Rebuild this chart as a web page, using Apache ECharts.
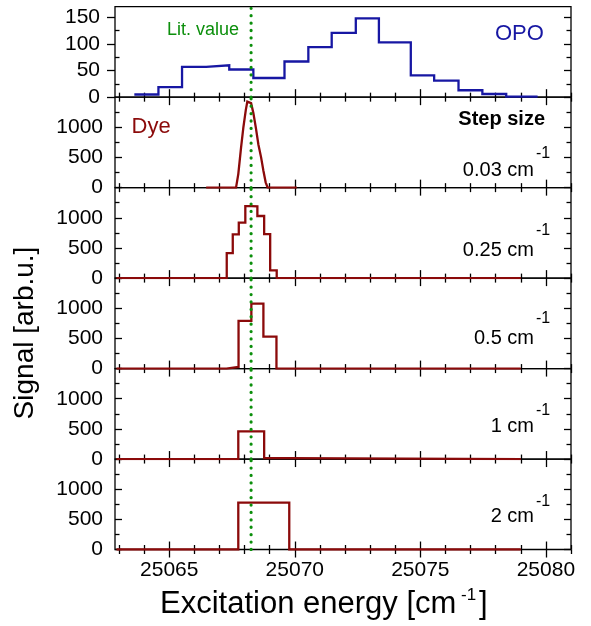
<!DOCTYPE html>
<html>
<head>
<meta charset="utf-8">
<script src="https://cdn.jsdelivr.net/npm/echarts@6/dist/echarts.min.js"></script>
<style>
html,body{margin:0;padding:0;background:#fff;}
#chart{width:591px;height:626px;}
</style>
</head>
<body>
<div id="chart"></div>
<script>
// ---------------- data ----------------
const X_MIN = 25062.84;
const X_MAX = 25081;
const X_MAJOR_TICKS = [25065, 25070, 25075, 25080];
const LIT_VALUE = 25068.26;

const OPO_Y_TICKS = [0, 50, 100, 150];
const OPO_Y_MINOR = [25, 75, 125];
const OPO_Y_MAX = 170;
const DYE_Y_TICKS = [0, 500, 1000];
const DYE_Y_MINOR = [250, 750, 1250];
const DYE_Y_MAX = 1500;

// OPO scan: bin edges and bin values
const OPO_EDGES = [25063.61, 25064.57, 25065.51, 25066.47, 25067.39, 25068.35, 25069.59, 25070.54,
                   25071.47, 25072.43, 25073.35, 25074.62, 25075.55, 25076.52, 25077.47, 25078.42, 25079.67];
const OPO_VALUES = [5, 19, 57, 60, 52, 36, 67, 94, 121, 148, 103, 41, 31, 13, 6, 1];

// Dye scan, 0.03 cm-1 step (fine scan read as points)
const DYE003_X = [25066.47, 25067.66, 25067.75, 25067.86, 25067.95, 25068.05, 25068.11, 25068.18, 25068.26,
                  25068.35, 25068.45, 25068.55, 25068.66, 25068.75, 25068.84, 25068.92, 25070.08];
const DYE003_Y = [0, 0, 225, 662, 990, 1290, 1426, 1454, 1400, 1236, 990, 716, 498, 279, 88, 0, 0];

// Dye scans, coarse steps: bin edges and values
const DYE025_EDGES = [25067.29, 25067.53, 25067.77, 25068.03, 25068.27, 25068.51, 25068.78, 25069.02, 25069.28];
const DYE025_VALUES = [413, 724, 921, 1195, 1190, 1030, 730, 128];
const DYE05_EDGES = [25067.28, 25067.76, 25068.27, 25068.75, 25069.27];
const DYE05_VALUES = [27, 790, 1077, 530];
const DYE1_EDGES = [25067.75, 25068.78, 25069.81];
const DYE1_VALUES = [459, 16];
const DYE2_EDGES = [25067.75, 25069.78];
const DYE2_VALUES = [776];

const DYE_BASE_START = 25062.9;
const DYE_BASE_END = 25079.0;

const STEP_LABELS = ['0.03 cm', '0.25 cm', '0.5 cm', '1 cm', '2 cm'];

// ---------------- helpers ----------------
function stepPoints(edges, values, baseStart, baseEnd) {
  const pts = [];
  if (baseStart !== undefined) pts.push([baseStart, 0], [edges[0], 0]);
  for (let i = 0; i < values.length; i++) {
    pts.push([edges[i], values[i]]);
    pts.push([edges[i + 1], values[i]]);
  }
  if (baseEnd !== undefined) pts.push([edges[edges.length - 1], 0], [baseEnd, 0]);
  return pts;
}
function zip(xs, ys) { return xs.map((x, i) => [x, ys[i]]); }

const X_MINOR_TICKS = [];
for (let v = Math.ceil(X_MIN); v <= X_MAX; v++) if (v % 5 !== 0) X_MINOR_TICKS.push(v);

const FONT = '"Liberation Sans", Arial, sans-serif';
const BLUE = '#1717a3';
const RED = '#8b0a0a';
const GREEN = '#0c8f0c';
const N = 6;
const TOP0 = 6.7, H = 90.47, LEFT = 115, RIGHT = 20;
const plain = v => String(v);

const grids = [], xAxes = [], yAxes = [], series = [];

for (let g = 0; g < N; g++) {
  const isOpo = g === 0;
  const last = g === N - 1;
  grids.push({left: LEFT, right: RIGHT, top: TOP0 + g * H, height: H, show: true,
              borderColor: '#000', borderWidth: 1.3, backgroundColor: 'transparent'});
  const tickStyle = {color: '#000', width: 1.3};
  const xBase = {gridIndex: g, type: 'value', min: X_MIN, max: X_MAX, axisLine: {show: false},
                 splitLine: {show: false}, minorTick: {show: false}};
  ['bottom', 'top'].forEach(pos => {
    xAxes.push(Object.assign({}, xBase, {position: pos,
      axisTick: {show: true, inside: true, length: 8, customValues: X_MAJOR_TICKS, lineStyle: tickStyle},
      axisLabel: {show: last && pos === 'bottom', customValues: X_MAJOR_TICKS, margin: 10, formatter: plain,
                  fontSize: 21, color: '#000', fontFamily: FONT}}));
    xAxes.push(Object.assign({}, xBase, {position: pos,
      axisTick: {show: true, inside: true, length: 4.5, customValues: X_MINOR_TICKS, lineStyle: tickStyle},
      axisLabel: {show: false}}));
  });
  const ymax = isOpo ? OPO_Y_MAX : DYE_Y_MAX;
  const majors = isOpo ? OPO_Y_TICKS : DYE_Y_TICKS;
  const minors = isOpo ? OPO_Y_MINOR : DYE_Y_MINOR;
  const yBase = {gridIndex: g, type: 'value', min: 0, max: ymax, axisLine: {show: false},
                 splitLine: {show: false}, minorTick: {show: false}};
  yAxes.push(Object.assign({}, yBase, {position: 'left',
    axisTick: {show: true, inside: !isOpo, length: isOpo ? 8 : 7, customValues: majors, lineStyle: tickStyle},
    axisLabel: {show: true, customValues: majors, margin: isOpo ? 15 : 12, fontSize: 21, formatter: plain,
                color: '#000', fontFamily: FONT}}));
  yAxes.push(Object.assign({}, yBase, {position: 'left',
    axisTick: {show: true, inside: true, length: 4.5, customValues: minors, lineStyle: tickStyle},
    axisLabel: {show: false}}));
  yAxes.push(Object.assign({}, yBase, {position: 'right',
    axisTick: {show: true, inside: true, length: 7, customValues: majors, lineStyle: tickStyle},
    axisLabel: {show: false}}));
  yAxes.push(Object.assign({}, yBase, {position: 'right',
    axisTick: {show: true, inside: true, length: 4.5, customValues: minors, lineStyle: tickStyle},
    axisLabel: {show: false}}));

  // literature value dotted line
  series.push({type: 'line', xAxisIndex: 4 * g, yAxisIndex: 4 * g, data: [[LIT_VALUE, 0], [LIT_VALUE, ymax]],
    symbol: 'none', z: 10, silent: true,
    lineStyle: {color: GREEN, width: 3.2, type: [0.1, 7.3], cap: 'round'}});
}

const dyeData = [
  zip(DYE003_X, DYE003_Y),
  stepPoints(DYE025_EDGES, DYE025_VALUES, DYE_BASE_START, DYE_BASE_END),
  stepPoints(DYE05_EDGES, DYE05_VALUES, DYE_BASE_START, DYE_BASE_END),
  stepPoints(DYE1_EDGES, DYE1_VALUES, DYE_BASE_START, DYE_BASE_END),
  stepPoints(DYE2_EDGES, DYE2_VALUES, DYE_BASE_START, DYE_BASE_END)
];

series.push({type: 'line', xAxisIndex: 0, yAxisIndex: 0, data: stepPoints(OPO_EDGES, OPO_VALUES),
  symbol: 'none', z: 5, lineStyle: {color: BLUE, width: 2.3, join: 'miter'}});
dyeData.forEach((d, i) => {
  series.push({type: 'line', xAxisIndex: 4 * (i + 1), yAxisIndex: 4 * (i + 1), data: d,
    symbol: 'none', z: 5, lineStyle: {color: RED, width: 2.3, join: 'miter'}});
});

// ---------------- texts ----------------
function txt(text, x, y, size, color, align, extra) {
  return Object.assign({type: 'text', x: x, y: y, silent: true, z: 20,
    style: {text: text, fill: color, fontSize: size, fontFamily: FONT, align: align, verticalAlign: 'middle'}}, extra || {});
}
const graphics = [
  txt('Lit. value', 167, 29.7, 18, GREEN, 'left'),
  txt('OPO', 495, 34, 22, BLUE, 'left'),
  txt('Dye', 131.5, 127, 22, RED, 'left'),
  {type: 'text', x: 545, y: 119, z: 20, silent: true,
   style: {text: 'Step size', fill: '#000', fontSize: 20, fontWeight: 'bold', fontFamily: FONT,
           align: 'right', verticalAlign: 'middle'}}
];
const labelY = [170.8, 250, 338.3, 426.7, 516.7];
const supY = [153.3, 230.8, 319, 410.8, 502];
STEP_LABELS.forEach((t, i) => {
  graphics.push(txt(t, 534, labelY[i], 20, '#000', 'right'));
  graphics.push(txt('-1', 536, supY[i], 16, '#000', 'left'));
});
// axis titles
graphics.push(txt('Signal [arb.u.]', 25, 333, 28, '#000', 'center', {rotation: Math.PI / 2}));
graphics.push(txt('Excitation energy [cm', 160, 604, 31, '#000', 'left'));
graphics.push(txt('-1', 461, 595, 17, '#000', 'left'));
graphics.push(txt(']', 479, 604, 31, '#000', 'left'));

const chart = echarts.init(document.getElementById('chart'), null, {renderer: 'canvas'});
chart.setOption({
  animation: false,
  backgroundColor: '#fff',
  grid: grids,
  xAxis: xAxes,
  yAxis: yAxes,
  series: series,
  graphic: graphics
});
</script>
</body>
</html>
